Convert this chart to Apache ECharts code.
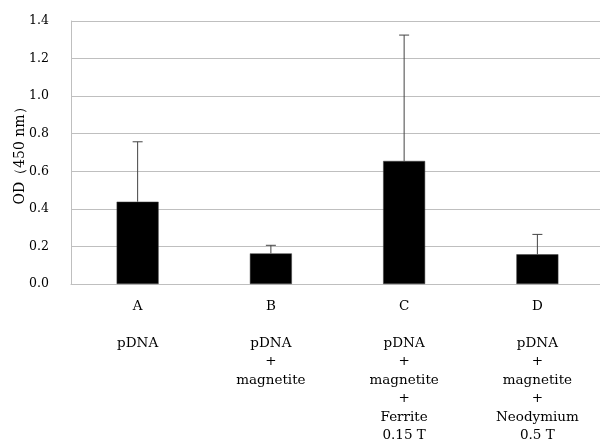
<!DOCTYPE html>
<html>
<head>
<meta charset="utf-8">
<script src="https://cdn.jsdelivr.net/npm/echarts@6/dist/echarts.min.js"></script>
<style>html,body{margin:0;padding:0;background:#fff}#c{width:600px;height:443px}</style>
</head>
<body>
<div id="c"></div>
<script>
var categories = ['A', 'B', 'C', 'D'];
var conditions = [
  'pDNA',
  'pDNA\n+\nmagnetite',
  'pDNA\n+\nmagnetite\n+\nFerrite\n0.15 T',
  'pDNA\n+\nmagnetite\n+\nNeodymium\n0.5 T'
];
var means = [0.438, 0.163, 0.655, 0.158];
var errorUpper = [0.757, 0.206, 1.325, 0.264];
var yTicks = [0, 0.2, 0.4, 0.6, 0.8, 1.0, 1.2, 1.4];

var FONT = '"DejaVu Serif", serif';
var chart = echarts.init(document.getElementById('c'), null, {renderer: 'canvas'});
var errData = categories.map(function (c, i) { return [i, means[i], errorUpper[i]]; });

chart.setOption({
  animation: false,
  grid: {left: 71, top: 21, width: 533, height: 263, containLabel: false, outerBoundsMode: 'none'},
  xAxis: {
    type: 'category',
    data: categories,
    axisLine: {show: true, lineStyle: {color: '#bfbfbf', width: 1}},
    axisTick: {show: false},
    axisLabel: {
      margin: 13,
      color: '#000',
      fontFamily: FONT,
      fontSize: 13.5,
      lineHeight: 18.5,
      align: 'center',
      verticalAlign: 'top',
      formatter: function (v, i) { return v + '\n\n' + conditions[i]; }
    }
  },
  yAxis: {
    type: 'value',
    min: 0,
    max: 1.4,
    interval: 0.2,
    name: 'OD（450 nm）',
    nameLocation: 'middle',
    nameGap: 44,
    nameRotate: 90,
    nameMoveOverlap: false,
    nameTextStyle: {color: '#000', fontFamily: FONT, fontSize: 14},
    axisLine: {show: true, lineStyle: {color: '#bfbfbf', width: 1}},
    axisTick: {show: false},
    splitLine: {show: true, lineStyle: {color: '#bfbfbf', width: 1}},
    axisLabel: {
      margin: 22,
      color: '#000',
      fontFamily: FONT,
      fontSize: 12.5,
      formatter: function (v) { return v.toFixed(1); }
    }
  },
  series: [
    {
      type: 'bar',
      data: means,
      barWidth: '31.5%',
      itemStyle: {color: '#000', borderColor: '#404040', borderWidth: 0.5},
      z: 2
    },
    {
      type: 'custom',
      data: errData,
      z: 3,
      renderItem: function (params, api) {
        var x = api.value(0);
        var base = api.coord([x, api.value(1)]);
        var top = api.coord([x, api.value(2)]);
        var half = 5;
        var style = {stroke: '#444', lineWidth: 1, fill: null};
        return {
          type: 'group',
          children: [
            {type: 'line', shape: {x1: base[0], y1: base[1], x2: top[0], y2: top[1]}, style: style},
            {type: 'line', shape: {x1: top[0] - half, y1: top[1], x2: top[0] + half, y2: top[1]}, style: style}
          ]
        };
      }
    }
  ]
});
</script>
</body>
</html>
